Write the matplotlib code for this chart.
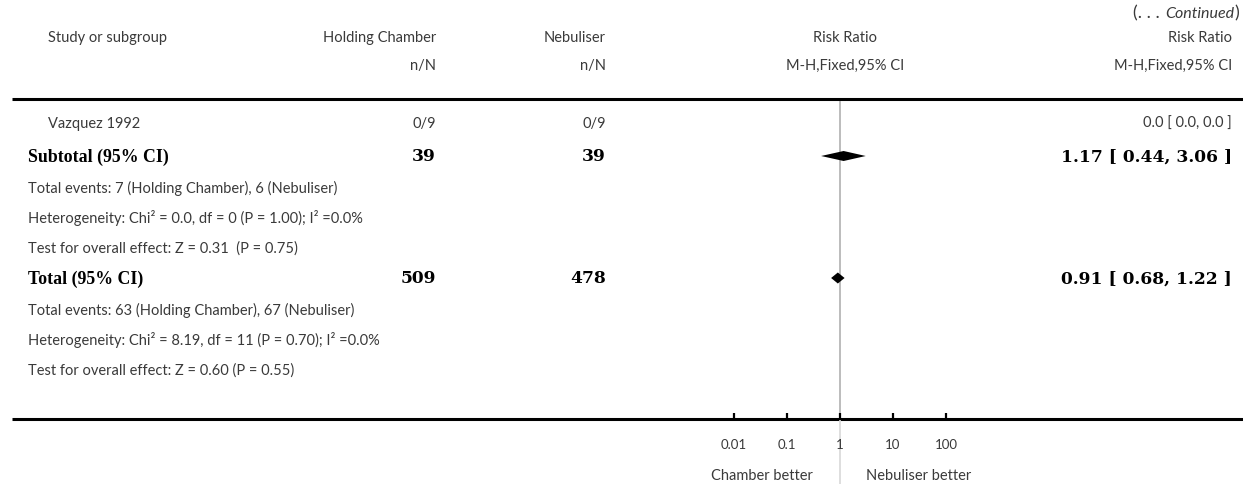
import numpy as np
import matplotlib
matplotlib.use("Agg")
import matplotlib.pyplot as plt

# data
studies = ["Vazquez 1992"]
chamber_nN = ["0/9"]
nebuliser_nN = ["0/9"]
study_rr = ["0.0 [ 0.0, 0.0 ]"]

subtotal_n = [39, 39]
subtotal_rr = [1.17, 0.44, 3.06]   # est, lo, hi
subtotal_notes = ["Total events: 7 (Holding Chamber), 6 (Nebuliser)",
                  "Heterogeneity: Chi² = 0.0, df = 0 (P = 1.00); I² =0.0%",
                  "Test for overall effect: Z = 0.31  (P = 0.75)"]

total_n = [509, 478]
total_rr = [0.91, 0.68, 1.22]
total_notes = ["Total events: 63 (Holding Chamber), 67 (Nebuliser)",
               "Heterogeneity: Chi² = 8.19, df = 11 (P = 0.70); I² =0.0%",
               "Test for overall effect: Z = 0.60 (P = 0.55)"]

ticks = [0.01, 0.1, 1, 10, 100]
tick_labels = ["0.01", "0.1", "1", "10", "100"]

W, H = 1243, 485
SANS = "Lato"
SERIF = "Liberation Serif"
NUMF = "DejaVu Serif"
GREY = "#3a3a3a"
fs = 10.5
bfs = 12.8
nfs = 12.3
col1, col2, col_r = 436, 606, 1232

fig = plt.figure(figsize=(W / 100, H / 100), dpi=100)
ax = fig.add_axes([0, 0, 1, 1])
ax.set_xlim(0, W)
ax.set_ylim(H, 0)
ax.axis("off")

# forest panel: log scale, 1 at x=840, 53 px per decade
px_dec = 53.0
x0, x1 = 680, 1000
fax = fig.add_axes([x0 / W, 0, (x1 - x0) / W, 1])
fax.set_xscale("log")
fax.set_xlim(10 ** ((x0 - 840) / px_dec), 10 ** ((x1 - 840) / px_dec))
fax.set_ylim(H, 0)
fax.patch.set_visible(False)
for s in ["top", "left", "right"]:
    fax.spines[s].set_visible(False)
fax.spines["bottom"].set_position(("data", 419.5))
fax.spines["bottom"].set_visible(False)
fax.set_yticks([])
fax.set_xticks(ticks)
fax.set_xticklabels(tick_labels, fontfamily=SANS, fontsize=9.5, color=GREY)
fax.minorticks_off()
fax.tick_params(axis="x", direction="in", length=4.5, width=1.6, color="black", pad=14)

# header
ax.text(1239.5, 13, ")", ha="right", va="center", fontfamily=SANS, fontsize=13, color=GREY)
ax.text(1234, 14, "Continued", ha="right", va="center", fontfamily=SANS, fontsize=11.5,
        style="italic", color=GREY)
ax.text(1160, 13, "(. . .", ha="right", va="center", fontfamily=SANS, fontsize=13, color=GREY)

hdr1 = [(48, "Study or subgroup", "left"), (col1, "Holding Chamber", "right"),
        (col2, "Nebuliser", "right"), (845, "Risk Ratio", "center"), (col_r, "Risk Ratio", "right")]
hdr2 = [(col1, "n/N", "right"), (col2, "n/N", "right"),
        (845, "M-H,Fixed,95% CI", "center"), (col_r, "M-H,Fixed,95% CI", "right")]
for x, t, ha in hdr1:
    ax.text(x, 38, t, ha=ha, va="center", fontfamily=SANS, fontsize=fs, color=GREY)
for x, t, ha in hdr2:
    ax.text(x, 66, t, ha=ha, va="center", fontfamily=SANS, fontsize=fs, color=GREY)

ax.plot([12, W], [99.5, 99.5], color="black", lw=2.2, solid_capstyle="butt")
ax.plot([12, W], [419.5, 419.5], color="black", lw=2.2, solid_capstyle="butt")

# reference line at RR = 1
fax.vlines(1, 102, 419, color="#b0b0b0", lw=1.2, zorder=1)
fax.vlines(1, 421, H, color="#d8d8d8", lw=1.2, zorder=1)

# study rows
for i, name in enumerate(studies):
    y = 124 + i * 30
    ax.text(48, y, name, ha="left", va="center", fontfamily=SANS, fontsize=fs, color=GREY)
    ax.text(col1, y, chamber_nN[i], ha="right", va="center", fontfamily=SANS, fontsize=fs, color=GREY)
    ax.text(col2, y, nebuliser_nN[i], ha="right", va="center", fontfamily=SANS, fontsize=fs, color=GREY)
    ax.text(col_r, y, study_rr[i], ha="right", va="center", fontfamily=SANS, fontsize=fs, color=GREY)


def summary_block(y, label, n, rr, notes, dh):
    ax.text(28, y, label, ha="left", va="center", fontfamily=SERIF, fontsize=bfs,
            fontweight="bold", color="black")
    ax.text(col1, y, str(n[0]), ha="right", va="center", fontfamily=NUMF, fontsize=nfs,
            fontweight="bold", color="black")
    ax.text(col2, y, str(n[1]), ha="right", va="center", fontfamily=NUMF, fontsize=nfs,
            fontweight="bold", color="black")
    ax.text(col_r, y, "%.2f [ %.2f, %.2f ]" % tuple(rr), ha="right", va="center",
            fontfamily=NUMF, fontsize=nfs, fontweight="bold", color="black")
    est, lo, hi = rr
    fax.fill([lo, est, hi, est], [y, y - dh, y, y + dh], color="black", lw=0, zorder=3)
    for j, note in enumerate(notes):
        ax.text(28, y + 31 + j * 30.3, note, ha="left", va="center", fontfamily=SANS,
                fontsize=fs, color=GREY)


summary_block(157, "Subtotal (95% CI)", subtotal_n, subtotal_rr, subtotal_notes, 5.0)
summary_block(279, "Total (95% CI)", total_n, total_rr, total_notes, 5.5)

ax.text(813, 476, "Chamber better", ha="right", va="center", fontfamily=SANS, fontsize=10.5, color=GREY)
ax.text(866, 476, "Nebuliser better", ha="left", va="center", fontfamily=SANS, fontsize=10.5, color=GREY)

fig.savefig("out.png", dpi=100)
